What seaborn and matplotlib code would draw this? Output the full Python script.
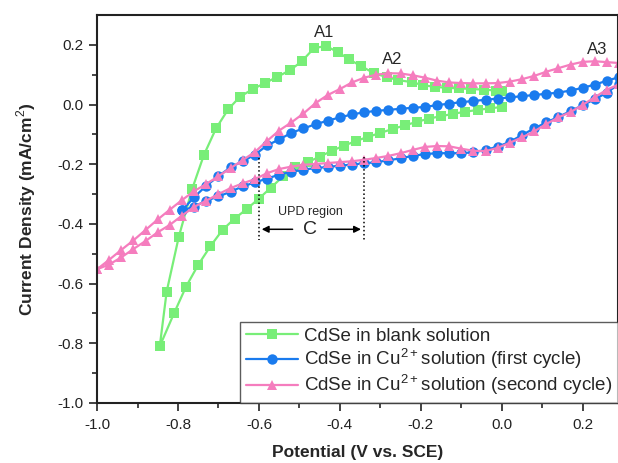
import matplotlib
matplotlib.use("Agg")
import matplotlib.pyplot as plt
import seaborn as sns
import pandas as pd

# ---- data: CdSe in blank solution (cathodic branch, then anodic return) ----
blank_x = [0.00, -0.03, -0.06, -0.09, -0.12, -0.15, -0.18, -0.21, -0.24, -0.27,
           -0.30, -0.33, -0.36, -0.39, -0.42, -0.45, -0.48, -0.51, -0.54, -0.57,
           -0.60, -0.63, -0.66, -0.69, -0.72, -0.75, -0.78, -0.81, -0.845,
           -0.828, -0.798, -0.765, -0.736, -0.706, -0.676, -0.647, -0.615, -0.585,
           -0.556, -0.523, -0.494, -0.464, -0.435, -0.405, -0.378, -0.348, -0.316,
           -0.284, -0.257, -0.222, -0.195, -0.165, -0.135, -0.105, -0.075, -0.045,
           -0.015, 0.000]
blank_y = [-0.008, -0.013, -0.018, -0.024, -0.031, -0.039, -0.047, -0.058, -0.070, -0.082,
           -0.095, -0.108, -0.122, -0.138, -0.155, -0.175, -0.193, -0.210, -0.240, -0.278,
           -0.315, -0.350, -0.382, -0.420, -0.475, -0.537, -0.610, -0.700, -0.810,
           -0.627, -0.443, -0.283, -0.169, -0.080, -0.016, 0.026, 0.052, 0.072,
           0.092, 0.115, 0.145, 0.189, 0.196, 0.176, 0.152, 0.129, 0.105,
           0.092, 0.082, 0.075, 0.065, 0.059, 0.056, 0.054, 0.052, 0.050,
           0.047, 0.045]

# ---- data: CdSe in Cu2+ solution, first cycle ----
first_x = [-0.79, -0.76, -0.73, -0.70, -0.67, -0.64, -0.61, -0.58, -0.55, -0.52,
           -0.49, -0.46, -0.43, -0.40, -0.37, -0.34, -0.31, -0.28, -0.25, -0.22,
           -0.19, -0.16, -0.13, -0.10, -0.07, -0.04, -0.01, 0.02, 0.05, 0.08,
           0.11, 0.14, 0.17, 0.20, 0.23, 0.26, 0.29,
           0.29, 0.26, 0.23, 0.20, 0.17, 0.14, 0.11, 0.08, 0.05, 0.02,
           -0.01, -0.04, -0.07, -0.10, -0.13, -0.16, -0.19, -0.22, -0.25, -0.28,
           -0.31, -0.34, -0.37, -0.40, -0.43, -0.46, -0.49, -0.52, -0.55, -0.58,
           -0.61, -0.64, -0.67, -0.70, -0.73, -0.76, -0.79]
first_y = [-0.355, -0.310, -0.272, -0.240, -0.210, -0.190, -0.168, -0.137, -0.117, -0.095,
           -0.080, -0.066, -0.054, -0.043, -0.033, -0.026, -0.021, -0.018, -0.014, -0.011,
           -0.008, -0.002, 0.003, 0.008, 0.012, 0.016, 0.020, 0.024, 0.028, 0.032,
           0.036, 0.040, 0.047, 0.056, 0.067, 0.080, 0.092,
           0.070, 0.040, 0.018, -0.002, -0.022, -0.041, -0.060, -0.080, -0.102, -0.125,
           -0.141, -0.152, -0.160, -0.163, -0.163, -0.163, -0.166, -0.172, -0.180, -0.187,
           -0.193, -0.197, -0.201, -0.205, -0.209, -0.213, -0.218, -0.225, -0.235, -0.248,
           -0.261, -0.274, -0.292, -0.308, -0.322, -0.342, -0.355]

# ---- data: CdSe in Cu2+ solution, second cycle ----
second_x = [-1.00, -0.97, -0.94, -0.91, -0.88, -0.85, -0.82, -0.79, -0.76, -0.73,
            -0.70, -0.67, -0.64, -0.61, -0.58, -0.55, -0.52, -0.49, -0.46, -0.43,
            -0.40, -0.37, -0.34, -0.31, -0.28, -0.25, -0.22, -0.19, -0.16, -0.13,
            -0.10, -0.07, -0.04, -0.01, 0.02, 0.05, 0.08, 0.11, 0.14, 0.17,
            0.20, 0.23, 0.26, 0.29,
            0.29, 0.26, 0.23, 0.20, 0.17, 0.14, 0.11, 0.08, 0.05, 0.02,
            -0.01, -0.04, -0.07, -0.10, -0.13, -0.16, -0.19, -0.22, -0.25, -0.28,
            -0.31, -0.34, -0.37, -0.40, -0.43, -0.46, -0.49, -0.52, -0.55, -0.58,
            -0.61, -0.64, -0.67, -0.70, -0.73, -0.76, -0.79, -0.82, -0.85, -0.88,
            -0.91, -0.94, -0.97, -1.00]
second_y = [-0.552, -0.520, -0.487, -0.455, -0.420, -0.385, -0.352, -0.320, -0.290, -0.266,
            -0.240, -0.213, -0.186, -0.159, -0.122, -0.087, -0.060, -0.030, 0.005, 0.032,
            0.052, 0.074, 0.090, 0.100, 0.105, 0.104, 0.098, 0.090, 0.080, 0.074,
            0.072, 0.071, 0.071, 0.072, 0.077, 0.085, 0.096, 0.110, 0.122, 0.134,
            0.143, 0.145, 0.142, 0.139,
            0.068, 0.050, 0.025, -0.001, -0.025, -0.043, -0.065, -0.090, -0.110, -0.128,
            -0.145, -0.156, -0.155, -0.148, -0.140, -0.139, -0.142, -0.152, -0.163, -0.172,
            -0.179, -0.185, -0.190, -0.193, -0.196, -0.199, -0.202, -0.208, -0.216, -0.230,
            -0.250, -0.264, -0.280, -0.300, -0.322, -0.343, -0.372, -0.403, -0.428, -0.457,
            -0.484, -0.512, -0.536, -0.552]

labels = ["CdSe in blank solution",
          "CdSe in Cu$^{2+}$solution (first cycle)",
          "CdSe in Cu$^{2+}$solution (second cycle)"]
colors = ["#78EE78", "#1A7BEE", "#F57DBE"]

sns.set_style("ticks")
plt.rcParams['font.family'] = ['Liberation Sans', 'DejaVu Sans']
plt.rcParams['mathtext.fontset'] = 'custom'
plt.rcParams['mathtext.rm'] = 'Liberation Sans'
plt.rcParams['axes.unicode_minus'] = False

fig = plt.figure(figsize=(6.18, 4.63), dpi=100)
ax = fig.add_axes([0.157, 0.1296, 0.843, 0.838])

series = [(blank_x, blank_y, 's', 6.5), (first_x, first_y, 'o', 7.5), (second_x, second_y, '^', 7.5)]
for (xs, ys, mk, ms), lab, col in zip(series, labels, colors):
    df = pd.DataFrame({"x": xs, "y": ys})
    sns.lineplot(data=df, x="x", y="y", sort=False, estimator=None, ax=ax,
                 color=col, marker=mk, markersize=ms, markeredgewidth=0,
                 linewidth=1.6, label=lab)

ax.set_xlim(-1.0, 0.287)
ax.set_ylim(-1.0, 0.3)
ax.set_xticks([-1.0, -0.8, -0.6, -0.4, -0.2, 0.0, 0.2])
ax.set_yticks([-1.0, -0.8, -0.6, -0.4, -0.2, 0.0, 0.2])
ax.set_xticks([-0.9, -0.7, -0.5, -0.3, -0.1, 0.1], minor=True)
ax.set_yticks([-0.9, -0.7, -0.5, -0.3, -0.1, 0.1], minor=True)
ax.tick_params(axis='both', which='major', direction='out', length=6, width=1.2,
               labelsize=11, colors='#222222')
ax.tick_params(axis='x', which='major', pad=5)
ax.tick_params(axis='both', which='minor', direction='out', length=3.5, width=1.2)
for s in ax.spines.values():
    s.set_visible(True)
    s.set_linewidth(1.5)
    s.set_color('#222222')

ax.set_xlabel("Potential (V vs. SCE)", fontsize=12.5, fontweight='bold', labelpad=9)
ax.set_ylabel("Current Density (mA/cm$^2$)", fontsize=12.5, fontweight='bold', labelpad=14)

# annotations
ax.text(-0.44, 0.215, "A1", fontsize=12, ha='center', va='bottom')
ax.text(-0.27, 0.125, "A2", fontsize=12, ha='center', va='bottom')
ax.text(0.235, 0.16, "A3", fontsize=12, ha='center', va='bottom')

ax.plot([-0.6, -0.6], [-0.18, -0.455], ls=':', color='black', lw=1.1)
ax.plot([-0.341, -0.341], [-0.175, -0.455], ls=':', color='black', lw=1.1)
ax.text(-0.474, -0.36, "UPD region", fontsize=9, ha='center', va='center')
ax.text(-0.474, -0.418, "C", fontsize=14, ha='center', va='center')
ax.annotate("", xy=(-0.6, -0.418), xytext=(-0.51, -0.418),
            arrowprops=dict(arrowstyle='-|>', color='black', lw=1.1, mutation_scale=10))
ax.annotate("", xy=(-0.341, -0.418), xytext=(-0.435, -0.418),
            arrowprops=dict(arrowstyle='-|>', color='black', lw=1.1, mutation_scale=10))

leg = ax.legend(loc='lower right', bbox_to_anchor=(1.0, 0.0), borderaxespad=0,
                fontsize=13.5, frameon=True, fancybox=False, handlelength=2.8,
                handletextpad=0.3, labelspacing=0.08, borderpad=0.3)
leg.get_frame().set_edgecolor('#333333')
leg.get_frame().set_linewidth(1.0)

fig.savefig("out.png", dpi=100)
